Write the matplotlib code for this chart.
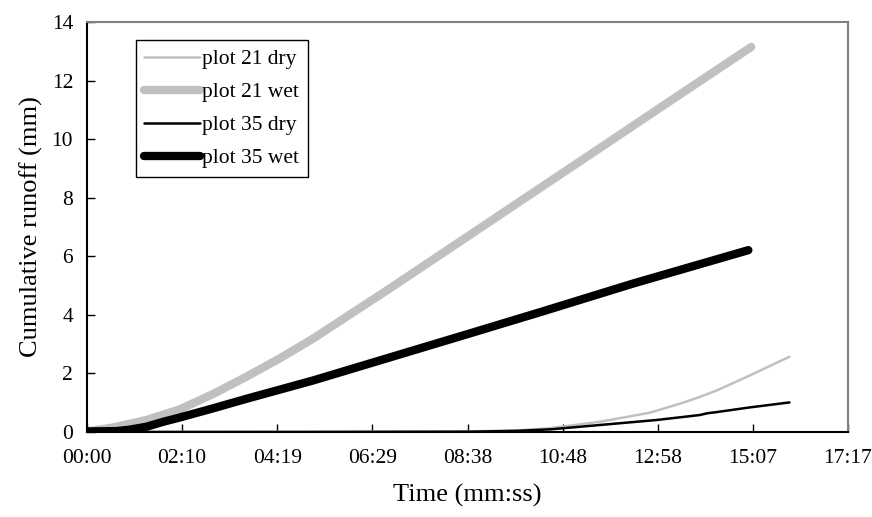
import matplotlib
matplotlib.use("Agg")
import matplotlib.pyplot as plt

plt.rcParams["font.family"] = "Liberation Serif"

# time in seconds, cumulative runoff in mm
t_21_dry = [0, 300, 520, 585, 631, 699, 767, 812, 835, 858, 903, 957]
y_21_dry = [0.0, 0.01, 0.02, 0.05, 0.13, 0.35, 0.66, 1.0, 1.2, 1.42, 1.93, 2.57]

t_21_wet = [0, 35, 81, 127, 172, 218, 263, 308, 413, 518, 650, 780, 905]
y_21_wet = [0.02, 0.15, 0.41, 0.78, 1.3, 1.9, 2.52, 3.19, 4.91, 6.67, 8.88, 11.06, 13.15]

t_35_dry = [0, 300, 520, 585, 631, 699, 776, 835, 845, 855, 903, 957]
y_35_dry = [0.0, 0.0, 0.01, 0.04, 0.09, 0.24, 0.41, 0.58, 0.64, 0.67, 0.84, 1.01]

t_35_wet = [0, 40, 58, 81, 104, 127, 172, 218, 263, 308, 413, 518, 621, 744, 901]
y_35_wet = [0.02, 0.03, 0.08, 0.18, 0.35, 0.5, 0.81, 1.14, 1.45, 1.76, 2.55, 3.34, 4.12, 5.07, 6.21]

tick_labels = ["00:00", "02:10", "04:19", "06:29", "08:38", "10:48", "12:58", "15:07", "17:17"]
tick_step = 129.6  # seconds (0.0015 day)

fig = plt.figure(figsize=(8.72, 5.17), dpi=100)
ax = fig.add_axes([0.0998, 0.1644, 0.8727, 0.793])

grey = "#c0c0c0"
ax.plot(t_21_dry, y_21_dry, color=grey, lw=1.8, label="plot 21 dry",
        solid_capstyle="round", solid_joinstyle="round")
ax.plot(t_21_wet, y_21_wet, color=grey, lw=6, label="plot 21 wet",
        solid_capstyle="round", solid_joinstyle="round")
ax.plot(t_35_dry, y_35_dry, color="black", lw=1.8, label="plot 35 dry",
        solid_capstyle="round", solid_joinstyle="round")
ax.plot(t_35_wet, y_35_wet, color="black", lw=6, label="plot 35 wet",
        solid_capstyle="round", solid_joinstyle="round")

ax.set_xlim(0, tick_step * 8)
ax.set_ylim(0, 14)
ax.set_xticks([tick_step * i for i in range(len(tick_labels))])
ax.set_xticklabels(tick_labels)
ax.set_yticks(range(0, 15, 2))

ax.tick_params(direction="in", length=6, width=1, labelsize=15.5)
ax.tick_params(axis="x", pad=12)
ax.tick_params(axis="y", pad=10)

for side in ["top", "right"]:
    ax.spines[side].set_color("#808080")
    ax.spines[side].set_linewidth(1.5)
for side in ["left", "bottom"]:
    ax.spines[side].set_linewidth(1.5)

ax.set_xlabel("Time (mm:ss)", fontsize=19, labelpad=12)
ax.set_ylabel("Cumulative runoff (mm)", fontsize=19, labelpad=6)

leg = ax.legend(loc="upper left", bbox_to_anchor=(0.064, 0.955), fontsize=15.5,
                frameon=True, fancybox=False, edgecolor="black", framealpha=1,
                handlelength=2.6, handletextpad=0.1, borderpad=0.4,
                labelspacing=0.6, borderaxespad=0)
leg.get_frame().set_linewidth(1)

fig.savefig("out.png", dpi=100)
